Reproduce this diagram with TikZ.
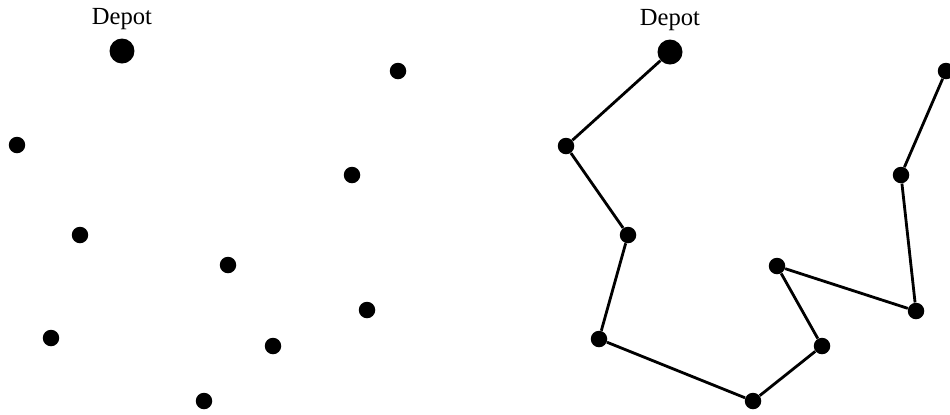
\documentclass[tikz,border=0pt]{standalone}
\usepackage{fontspec}
\setmainfont{Liberation Serif}
\usetikzlibrary{positioning}
\begin{document}
\begin{tikzpicture}[x=0.02cm, y=-0.02cm,
  city/.style={circle, fill=black, inner sep=0pt, minimum size=0.33cm},
  depot/.style={circle, fill=black, inner sep=0pt, minimum size=0.5cm},
  label text/.style={font=\fontsize{14}{16}\selectfont, inner sep=2pt},
  route/.style={line width=1.6pt}]
  \useasboundingbox (0,0) rectangle (950,414);

  % customers only
  \node[depot] (d) at (122,51) {};
  \node[label text, above=0.1cm of d] (dl) {Depot};
  \node[city] (a1) at (398,71) {};
  \node[city] (a2) at (17,145) {};
  \node[city] (a3) at (352,175) {};
  \node[city] (a4) at (80,235) {};
  \node[city] (a5) at (228,265) {};
  \node[city] (a6) at (367,310) {};
  \node[city] (a7) at (51,338) {};
  \node[city] (a8) at (273,346) {};
  \node[city] (a9) at (204,401) {};

  % same customers with the tour
  \node[depot] (e) at (670,52) {};
  \node[label text, above=0.1cm of e] (el) {Depot};
  \node[city] (b1) at (946,71) {};
  \node[city] (b2) at (566,146) {};
  \node[city] (b3) at (901,175) {};
  \node[city] (b4) at (628,235) {};
  \node[city] (b5) at (777,266) {};
  \node[city] (b6) at (916,311) {};
  \node[city] (b7) at (599,339) {};
  \node[city] (b8) at (822,346) {};
  \node[city] (b9) at (753,401) {};

  \draw[route] (e) -- (b2) -- (b4) -- (b7) -- (b9) -- (b8) -- (b5) -- (b6) -- (b3) -- (b1);
\end{tikzpicture}
\end{document}
